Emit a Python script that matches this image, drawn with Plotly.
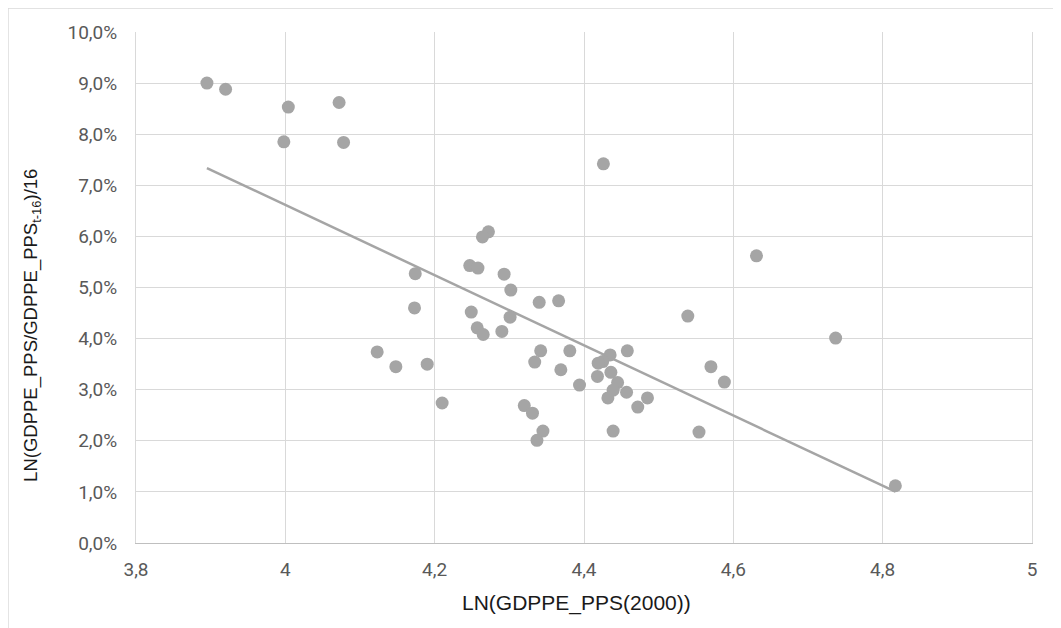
import numpy as np
import plotly.graph_objects as go

# LN(GDPPE_PPS(2000))
x_vals = [3.895, 3.920, 4.004, 4.072, 3.998, 4.078, 4.426, 4.272, 4.264, 4.174,
          4.247, 4.258, 4.293, 4.302, 4.340, 4.366, 4.173, 4.249, 4.301, 4.257,
          4.265, 4.290, 4.123, 4.148, 4.190, 4.210, 4.342, 4.334, 4.320, 4.331,
          4.345, 4.337, 4.381, 4.369, 4.394, 4.435, 4.425, 4.419, 4.418, 4.436,
          4.445, 4.439, 4.432, 4.458, 4.457, 4.485, 4.472, 4.439, 4.554, 4.539,
          4.570, 4.588, 4.631, 4.737, 4.817]
# LN(GDPPE_PPS/GDPPE_PPS(t-16))/16, in percent
y_pct = [9.00, 8.88, 8.53, 8.62, 7.85, 7.84, 7.42, 6.09, 5.99, 5.27,
         5.43, 5.38, 5.26, 4.95, 4.71, 4.74, 4.60, 4.52, 4.42, 4.21,
         4.08, 4.14, 3.74, 3.45, 3.50, 2.74, 3.76, 3.54, 2.69, 2.54,
         2.19, 2.01, 3.76, 3.39, 3.09, 3.68, 3.55, 3.52, 3.26, 3.34,
         3.14, 2.99, 2.84, 3.76, 2.95, 2.84, 2.66, 2.19, 2.17, 4.44,
         3.45, 3.15, 5.62, 4.01, 1.12]

x_ticks = [3.8, 4.0, 4.2, 4.4, 4.6, 4.8, 5.0]
y_ticks_pct = [0, 1, 2, 3, 4, 5, 6, 7, 8, 9, 10]

x_title = "LN(GDPPE_PPS(2000))"
y_title = "LN(GDPPE_PPS/GDPPE_PPS<sub>t-16</sub>)/16"

x = np.array(x_vals)
y = np.array(y_pct) / 100.0

# linear trendline (least squares)
slope, intercept = np.polyfit(x, y, 1)
tx = np.array([x.min(), x.max()])
ty = slope * tx + intercept

GREY = "#A5A5A5"
GRID = "#D9D9D9"

fig = go.Figure()
fig.add_trace(go.Scatter(x=tx, y=ty, mode="lines",
                         line=dict(color=GREY, width=2.5),
                         hoverinfo="skip", showlegend=False))
fig.add_trace(go.Scatter(x=x, y=y, mode="markers",
                         marker=dict(color=GREY, size=13, line=dict(width=0)),
                         showlegend=False))

tick_font = dict(family="Liberation Sans Narrow, Arial Narrow, Roboto, sans-serif",
                 size=19, color="#595959")
title_font = dict(family="Liberation Sans, Arial, sans-serif", color="#1a1a1a")

fig.update_layout(
    width=1053, height=620,
    margin=dict(l=128, r=29, t=24, b=85),
    paper_bgcolor="white", plot_bgcolor="white",
    separators=",.",
    xaxis=dict(range=[3.8, 5.0], tickvals=x_ticks, tickformat="~g",
               showgrid=True, gridcolor=GRID, gridwidth=1,
               zeroline=False, showline=True, linecolor="#BFBFBF", linewidth=1,
               ticks="", tickfont=tick_font, ticklabelstandoff=9),
    yaxis=dict(range=[0, 0.10], tickvals=[v / 100 for v in y_ticks_pct], tickformat=".1%",
               showgrid=True, gridcolor=GRID, gridwidth=1,
               zeroline=False, showline=True, linecolor=GRID, linewidth=1, mirror=True,
               ticks="", tickfont=tick_font, ticklabelstandoff=14),
    annotations=[
        dict(text=x_title, xref="paper", yref="paper", x=0.4916, y=-0.1174,
             xanchor="center", yanchor="middle", showarrow=False,
             font=dict(title_font, size=21)),
        dict(text=y_title, xref="paper", yref="paper", x=-0.1162, y=0.4266,
             xanchor="center", yanchor="middle", showarrow=False, textangle=-90,
             font=dict(title_font, size=18.5)),
    ],
    shapes=[
        dict(type="line", xref="paper", yref="paper", x0=-0.1429, x1=1.2, y0=1.047, y1=1.047,
             line=dict(color=GRID, width=1.5)),
        dict(type="line", xref="paper", yref="paper", x0=-0.1429, x1=-0.1429, y0=1.047, y1=-0.3,
             line=dict(color=GRID, width=1.5)),
    ],
)

fig.write_html("out.html")
